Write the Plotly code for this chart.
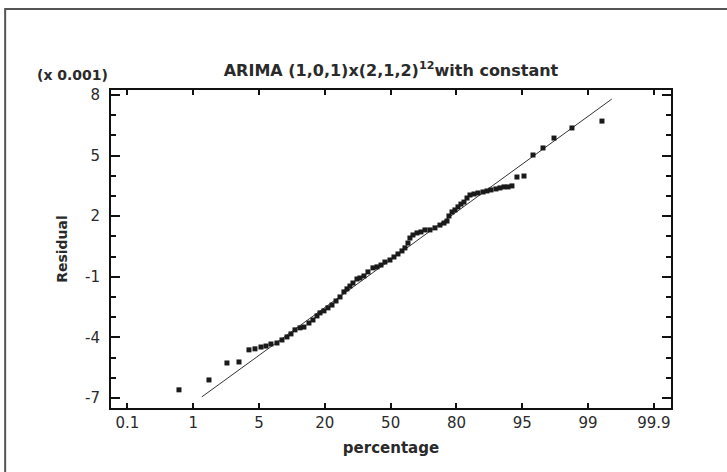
import plotly.graph_objects as go

# Probability-axis tick labels (evenly spaced positions on the chart)
pct_labels = ["0.1", "1", "5", "20", "50", "80", "95", "99", "99.9"]
pct_pos = [0, 1, 2, 3, 4, 5, 6, 7, 8]

# Sorted residuals (x 0.001) and their probability-axis positions
pos = [0.783, 1.239, 1.512, 1.695, 1.847, 1.938, 2.029, 2.105, 2.181, 2.272,
       2.348, 2.424, 2.485, 2.546, 2.622, 2.682, 2.758, 2.819, 2.880, 2.926,
       2.986, 3.047, 3.108, 3.169, 3.230, 3.290, 3.336, 3.381, 3.427, 3.488,
       3.533, 3.594, 3.655, 3.731, 3.792, 3.853, 3.913, 3.989, 4.050, 4.111,
       4.172, 4.217, 4.263, 4.293, 4.339, 4.400, 4.460, 4.521, 4.597, 4.673,
       4.749, 4.810, 4.856, 4.886, 4.932, 4.977, 5.023, 5.068, 5.114, 5.160,
       5.205, 5.266, 5.327, 5.403, 5.464, 5.524, 5.600, 5.661, 5.722, 5.783,
       5.843, 5.919, 6.026, 6.163, 6.315, 6.482, 6.755, 7.211]
resid = [-6.60, -6.11, -5.27, -5.22, -4.62, -4.57, -4.48, -4.43, -4.33, -4.28,
         -4.13, -3.98, -3.83, -3.63, -3.53, -3.49, -3.29, -3.14, -2.94, -2.79,
         -2.69, -2.54, -2.40, -2.20, -2.00, -1.75, -1.60, -1.46, -1.31, -1.11,
         -1.06, -0.96, -0.76, -0.56, -0.51, -0.42, -0.27, -0.17, -0.02, 0.13,
         0.28, 0.43, 0.67, 0.92, 1.07, 1.17, 1.22, 1.32, 1.32, 1.42,
         1.56, 1.66, 1.76, 2.01, 2.21, 2.31, 2.46, 2.60, 2.70, 2.90,
         3.05, 3.10, 3.15, 3.20, 3.25, 3.30, 3.35, 3.40, 3.45, 3.45,
         3.50, 3.94, 3.99, 5.03, 5.38, 5.87, 6.37, 6.71]

# Reference line end points
line_pos = [1.13, 7.36]
line_resid = [-6.95, 7.8]

y_ticks = [8, 5, 2, -1, -4, -7]
y_labels = ["8", "5", "2", "-1", "-4", "-7"]

FONT = "DejaVu Sans"
TXT = "#2a2a2a"

fig = go.Figure()
fig.add_trace(go.Scatter(x=line_pos, y=line_resid, mode="lines",
                         line=dict(color="#333333", width=1), hoverinfo="skip"))
fig.add_trace(go.Scatter(x=pos, y=resid, mode="markers",
                         marker=dict(symbol="square", size=5, color="#1a1a1a",
                                     line=dict(width=0))))

fig.update_layout(
    width=727, height=472,
    margin=dict(l=111, r=56, t=90, b=64),
    paper_bgcolor="white", plot_bgcolor="white",
    showlegend=False,
    font=dict(family=FONT, size=14, color=TXT),
    title=dict(text="<b>ARIMA (1,0,1)x(2,1,2)<sup>12</sup>with constant</b>",
               x=391 / 727, xref="container", xanchor="center",
               y=1 - 70 / 472, yref="container", yanchor="middle",
               automargin=False,
               font=dict(family=FONT, size=16, color=TXT)),
    xaxis=dict(range=[-0.25, 8.26], tickvals=pct_pos, ticktext=pct_labels,
               automargin=False,
               showgrid=False, zeroline=False, showline=True, linecolor="#111111",
               linewidth=2, mirror="ticks", ticks="inside", ticklen=5,
               tickcolor="#111111", tickwidth=1.5, ticklabelstandoff=0,
               tickfont=dict(family=FONT, size=15, color=TXT),
               title=dict(text="<b>percentage</b>", standoff=11,
                          font=dict(family=FONT, size=15, color=TXT))),
    yaxis=dict(range=[-7.5, 8.25], tickvals=y_ticks, ticktext=y_labels,
               automargin=False,
               showgrid=False, zeroline=False, showline=True, linecolor="#111111",
               linewidth=2, mirror="ticks", ticks="inside", ticklen=9,
               tickcolor="#111111", tickwidth=1.5, ticklabelstandoff=6,
               tickfont=dict(family=FONT, size=15, color=TXT),
               minor=dict(dtick=1, ticks="inside", ticklen=5, tickcolor="#111111",
                          tickwidth=1.5, showgrid=False),
               title=dict(text="<b>Residual</b>", standoff=14,
                          font=dict(family=FONT, size=14, color=TXT))),
)

fig.add_annotation(text="<b>(x 0.001)</b>", xref="paper", yref="paper",
                   x=0.0, y=1.0, xanchor="right", yanchor="middle", yshift=15,
                   xshift=-1,
                   showarrow=False, font=dict(family=FONT, size=14, color=TXT))

# Outer frame (top and left edges visible)
fig.add_shape(type="rect", xref="paper", yref="paper",
              x0=-0.189, x1=1.12, y0=-0.25, y1=1.2547,
              line=dict(color="#555555", width=2), layer="below")

fig.write_html("out.html",
               config={"displayModeBar": False},
               post_script="document.body.style.margin='0';")
